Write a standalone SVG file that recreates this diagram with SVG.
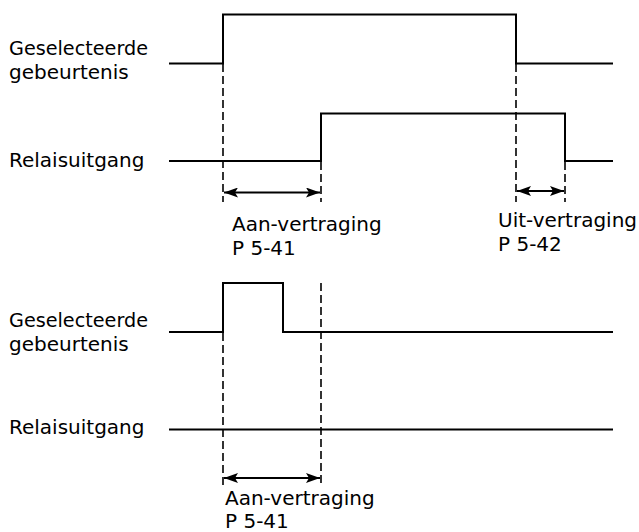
<svg xmlns="http://www.w3.org/2000/svg" width="639" height="532" viewBox="0 0 639 532">
<style>
text{font-family:"DejaVu Sans","Liberation Sans",sans-serif;font-size:20px;fill:#000}
.sig{fill:none;stroke:#000;stroke-width:2}
.dash{fill:none;stroke:#000;stroke-width:1.6;stroke-dasharray:8,4}
.dim{fill:none;stroke:#000;stroke-width:2;marker-start:url(#ah);marker-end:url(#ah)}
</style>
<defs>
<marker id="ah" viewBox="0 0 14 10" refX="14" refY="5" markerWidth="14" markerHeight="10" markerUnits="userSpaceOnUse" orient="auto-start-reverse">
<path d="M0,0 L14,5 L0,10 L3,5 Z" fill="#000"/>
</marker>
</defs>
<rect width="639" height="532" fill="#fff"/>
<g id="label-event-1"><text x="9" y="55" textLength="139" lengthAdjust="spacingAndGlyphs">Geselecteerde</text><text x="9" y="79">gebeurtenis</text></g>
<g id="label-relay-1"><text x="9" y="167">Relaisuitgang</text></g>
<g id="label-event-2"><text x="9" y="327" textLength="139" lengthAdjust="spacingAndGlyphs">Geselecteerde</text><text x="9" y="351">gebeurtenis</text></g>
<g id="label-relay-2"><text x="9" y="434">Relaisuitgang</text></g>
<g id="label-on-1"><text x="232" y="231">Aan-vertraging</text><text x="232" y="255">P 5-41</text></g>
<g id="label-off-1"><text x="498" y="227">Uit-vertraging</text><text x="498" y="251">P 5-42</text></g>
<g id="label-on-2"><text x="225" y="505">Aan-vertraging</text><text x="225" y="528">P 5-41</text></g>
<g id="connectors">
<path class="sig" d="M169,63.5 H223 V14.5 H516 V63.5 H613"/>
<path class="sig" d="M169,161 H321 V113.5 H565 V161 H613"/>
<path class="sig" d="M169,332 H223 V283 H283 V332 H613"/>
<path class="sig" d="M169,429.5 H613"/>
<path class="dash" d="M223,64 V202 M321,162 V202 M516,64 V202 M565,162 V202"/>
<path class="dash" d="M223,333 V486 M321,283 V486"/>
<path class="dim" d="M224,192.5 H320"/>
<path class="dim" d="M517,191 H564"/>
<path class="dim" d="M224,478 H320"/>
</g>
</svg>
